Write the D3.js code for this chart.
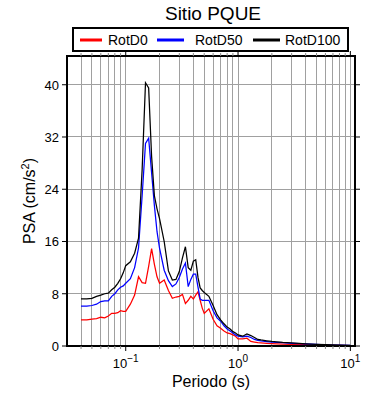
<!DOCTYPE html>
<html><head><meta charset="utf-8">
<script src="https://cdn.jsdelivr.net/npm/d3@7"></script>
<style>body{margin:0;background:#fff}svg{display:block}text{font-family:"Liberation Sans",Arial,Helvetica,sans-serif}</style>
</head><body><div id="chart"></div>
<script>
const title = "Sitio PQUE";
const xLabel = "Periodo (s)";
const seriesNames = ["RotD0", "RotD50", "RotD100"];
const seriesColors = ["#ff0000", "#0000ff", "#000000"];
const periods = [0.04,0.045,0.05,0.055,0.06,0.065,0.07,0.075,0.08,0.085,0.09,0.095,0.1,0.11,0.12,0.13,0.14,0.15,0.16,0.17,0.18,0.19,0.2,0.22,0.24,0.26,0.28,0.3,0.32,0.34,0.36,0.38,0.4,0.42,0.44,0.46,0.48,0.5,0.55,0.6,0.65,0.7,0.75,0.8,0.85,0.9,0.95,1.0,1.1,1.2,1.3,1.4,1.5,1.6,1.8,2.0,2.2,2.5,3.0,3.5,4.0,5.0,6.0,7.0,8.0,10.0];
const rotD0 = [4.0,4.0,4.1,4.2,4.4,4.3,4.6,5.0,5.0,5.1,5.4,5.3,5.3,6.4,7.8,10.6,9.7,9.6,12.2,14.9,12.5,10.6,9.6,10.1,8.5,7.3,7.5,7.6,7.9,6.5,7.0,7.6,7.2,7.8,8.3,7.0,5.8,5.0,5.7,4.1,3.1,2.7,2.3,2.0,1.9,1.7,1.5,1.1,1.1,1.2,0.7,0.6,0.5,0.48,0.42,0.38,0.34,0.3,0.25,0.22,0.2,0.15,0.12,0.1,0.08,0.06];
const rotD50 = [6.1,6.1,6.2,6.4,6.8,6.9,6.9,7.6,8.0,8.6,9.0,9.2,9.6,10.3,12.0,15.0,23.0,31.0,31.8,26.5,21.5,17.5,15.0,11.6,10.0,9.1,9.5,10.5,11.8,12.7,9.1,10.2,11.0,11.0,9.0,7.2,7.0,7.0,7.0,5.4,4.3,3.8,3.1,2.6,2.3,2.0,1.7,1.5,1.4,1.5,1.3,1.0,0.85,0.77,0.68,0.6,0.55,0.5,0.42,0.37,0.32,0.24,0.18,0.15,0.12,0.09];
const rotD100 = [7.2,7.2,7.3,7.6,7.8,8.0,8.1,8.6,9.0,9.6,10.3,11.2,12.3,12.9,14.2,16.5,27.0,40.3,39.5,29.0,23.0,21.0,19.5,16.0,11.5,10.1,10.2,11.4,13.5,15.2,12.0,11.6,13.0,13.2,10.5,8.9,8.5,8.2,7.6,6.2,4.8,4.0,3.4,2.9,2.6,2.2,2.0,1.7,1.5,1.85,1.6,1.3,1.0,0.92,0.8,0.7,0.63,0.55,0.48,0.4,0.34,0.26,0.2,0.16,0.13,0.1];
const yTicks = [0, 8, 16, 24, 32, 40];
const xMajor = [0.1, 1, 10];
const xMajorExp = ["−1", "0", "1"];

const W = 390, H = 400;
const L = 67, R = 355, T = 56, B = 346;
const svg = d3.select("#chart").append("svg").attr("width", W).attr("height", H);

const x = d3.scaleLog().domain([0.03, 11]).range([L, R]);
const y = d3.scaleLinear().domain([0, 44.4]).range([B, T]);

const minor = [];
for (let e = -2; e <= 1; e++) for (let m = 1; m <= 9; m++) {
  const v = m * Math.pow(10, e);
  if (v > 0.0301 && v < 10.9) minor.push(v);
}

svg.append("g").selectAll("line").data(minor).join("line")
  .attr("x1", d => x(d)).attr("x2", d => x(d)).attr("y1", T).attr("y2", B)
  .attr("stroke", "#a0a0a0").attr("stroke-width", 1).attr("shape-rendering", "crispEdges");
svg.append("g").selectAll("line").data(yTicks.filter(d => d > 0)).join("line")
  .attr("x1", L).attr("x2", R).attr("y1", d => y(d)).attr("y2", d => y(d))
  .attr("stroke", "#a0a0a0").attr("stroke-width", 1).attr("shape-rendering", "crispEdges");

const series = [rotD0, rotD50, rotD100];
const line = d3.line().x(d => x(d[0])).y(d => y(d[1]));
series.forEach((s, i) => {
  svg.append("path").datum(periods.map((p, j) => [p, s[j]]))
    .attr("d", line).attr("fill", "none").attr("stroke", seriesColors[i])
    .attr("stroke-width", 1.25).attr("stroke-linejoin", "miter");
});

svg.append("rect").attr("x", L).attr("y", T).attr("width", R - L).attr("height", B - T)
  .attr("fill", "none").attr("stroke", "#000").attr("stroke-width", 2);

const xt = svg.append("g");
minor.forEach(v => {
  const isMaj = xMajor.some(m => Math.abs(m - v) < 1e-9);
  const len = isMaj ? 5 : 3;
  const col = isMaj ? "#000" : "#888";
  xt.append("line").attr("x1", x(v)).attr("x2", x(v)).attr("y1", B).attr("y2", B + len).attr("stroke", col).attr("stroke-width", 1);
  xt.append("line").attr("x1", x(v)).attr("x2", x(v)).attr("y1", T).attr("y2", T - len).attr("stroke", col).attr("stroke-width", 1);
});
yTicks.forEach(v => {
  xt.append("line").attr("x1", L - 5).attr("x2", L).attr("y1", y(v)).attr("y2", y(v)).attr("stroke", "#000");
  xt.append("line").attr("x1", R).attr("x2", R + 5).attr("y1", y(v)).attr("y2", y(v)).attr("stroke", "#000");
  svg.append("text").attr("x", L - 8).attr("y", y(v) + 5).attr("text-anchor", "end")
    .attr("font-size", 13).text(v);
});
xMajor.forEach((v, i) => {
  const t = svg.append("text").attr("x", x(v)).attr("y", 368).attr("text-anchor", "middle").attr("font-size", 13);
  t.append("tspan").text("10");
  t.append("tspan").attr("dy", -6).attr("font-size", 10).text(xMajorExp[i]);
});

svg.append("text").attr("x", (L + R) / 2).attr("y", 387).attr("text-anchor", "middle").attr("font-size", 16).text(xLabel);
const yl = svg.append("text").attr("transform", `translate(35,${(T + B) / 2}) rotate(-90)`)
  .attr("text-anchor", "middle").attr("font-size", 16);
yl.append("tspan").text("PSA (cm/s");
yl.append("tspan").attr("dy", -6).attr("font-size", 11).text("2");
yl.append("tspan").attr("dy", 6).text(")");

svg.append("text").attr("x", 213).attr("y", 20).attr("text-anchor", "middle").attr("font-size", 19).text(title);

svg.append("rect").attr("x", 73).attr("y", 28).attr("width", 275).attr("height", 23)
  .attr("fill", "#fff").attr("stroke", "#000").attr("stroke-width", 2);
const legX = [[80, 102, 108], [157, 184, 195], [253, 280, 285]];
seriesNames.forEach((n, i) => {
  svg.append("line").attr("x1", legX[i][0]).attr("x2", legX[i][1]).attr("y1", 40).attr("y2", 40)
    .attr("stroke", seriesColors[i]).attr("stroke-width", 3);
  svg.append("text").attr("x", legX[i][2]).attr("y", 45).attr("font-size", 14).text(n);
});
</script></body></html>
